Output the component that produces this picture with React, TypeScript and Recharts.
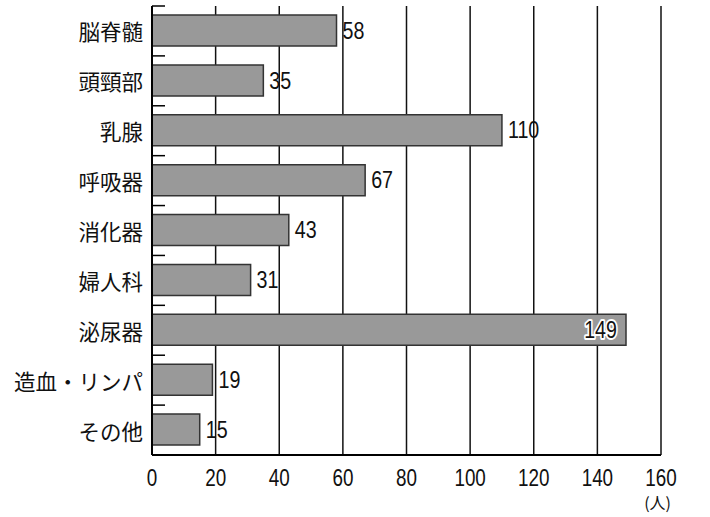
import React from 'react';
import { BarChart, Bar, XAxis, YAxis, CartesianGrid, LabelList, Label } from 'recharts';

const categories = ['脳脊髄', '頭頸部', '乳腺', '呼吸器', '消化器', '婦人科', '泌尿器', '造血・リンパ', 'その他'];
const counts = [58, 35, 110, 67, 43, 31, 149, 19, 15];
const xTicks = [0, 20, 40, 60, 80, 100, 120, 140, 160];

const chartData = categories.map((name, i) => ({ name, count: counts[i] }));

const W = 710;
const H = 517;
const TOP = 6;
const BOTTOM = 62;
const LEFT = 152;
const RIGHT = 49;
const band = (H - TOP - BOTTOM) / categories.length;

const numFont = '"Liberation Sans", Arial, sans-serif';
const jpFont = '"Noto Sans CJK JP", sans-serif';

// narrow-looking digits: squeeze horizontally
const Narrow = ({ x, y, anchor, size, halo, children }: any) => (
    <text transform={`translate(${x},${y}) scale(0.82,1)`} textAnchor={anchor} dominantBaseline="central"
        fontFamily={numFont} fontSize={size} fill="#111"
        stroke={halo ? '#fff' : undefined} strokeWidth={halo ? 4 : undefined} paintOrder="stroke" strokeLinejoin="round">
        {children}
    </text>
);

const XTick = (props: any) => {
    const { x, y, payload } = props;
    return <Narrow x={x} y={y + 10} anchor="middle" size={23}>{payload.value}</Narrow>;
};

const YTick = (props: any) => {
    const { x, y, payload } = props;
    const ax = x + 9;
    return (
        <g>
            <line x1={ax} x2={ax + 13} y1={y - band / 2} y2={y - band / 2} stroke="#000" strokeWidth={1.5} />
            <text x={x} y={y} textAnchor="end" dominantBaseline="central" fontFamily={jpFont} fontSize={21.5} fill="#111">
                {payload.value}
            </text>
        </g>
    );
};

const ValueLabel = (props: any) => {
    const { x, y, width, height, value } = props;
    const cy = y + height / 2;
    if (value >= 140) {
        return <Narrow x={x + width - 9} y={cy} anchor="end" size={24} halo>{value}</Narrow>;
    }
    return <Narrow x={x + width + 6} y={cy} anchor="start" size={24}>{value}</Narrow>;
};

const App: React.FC = () => {
    return (
        <div style={{ position: 'absolute', left: 0, top: 0, width: W, height: H, background: '#fff' }}>
            <BarChart width={W} height={H} data={chartData} layout="vertical"
                margin={{ top: TOP, right: RIGHT, bottom: 0, left: 0 }}>
                <CartesianGrid horizontal={false} stroke="#111" strokeWidth={1.5} />
                <XAxis type="number" dataKey="count" domain={[0, 160]} ticks={xTicks} interval={0}
                    height={BOTTOM} tickLine={false} tickSize={0} tickMargin={13}
                    axisLine={{ stroke: '#000', strokeWidth: 2 }} tick={<XTick />}>
                    <Label value="(人)" position="insideBottomRight" offset={0} dx={10} dy={-8}
                        style={{ fontFamily: jpFont, fontSize: 16, fill: '#111' }} />
                </XAxis>
                <XAxis xAxisId="top" orientation="top" type="number" domain={[0, 160]} height={0}
                    tick={false} tickLine={false} axisLine={{ stroke: '#111', strokeWidth: 1.5 }} />
                <YAxis type="category" dataKey="name" width={LEFT} tickLine={false} tickSize={0} tickMargin={9}
                    axisLine={{ stroke: '#000', strokeWidth: 2 }} tick={<YTick />} interval={0} />
                <Bar dataKey="count" barSize={31} fill="#999999" stroke="#333" strokeWidth={1.5} isAnimationActive={false}>
                    <LabelList dataKey="count" content={<ValueLabel />} />
                </Bar>
            </BarChart>
        </div>
    );
};

export default App;
